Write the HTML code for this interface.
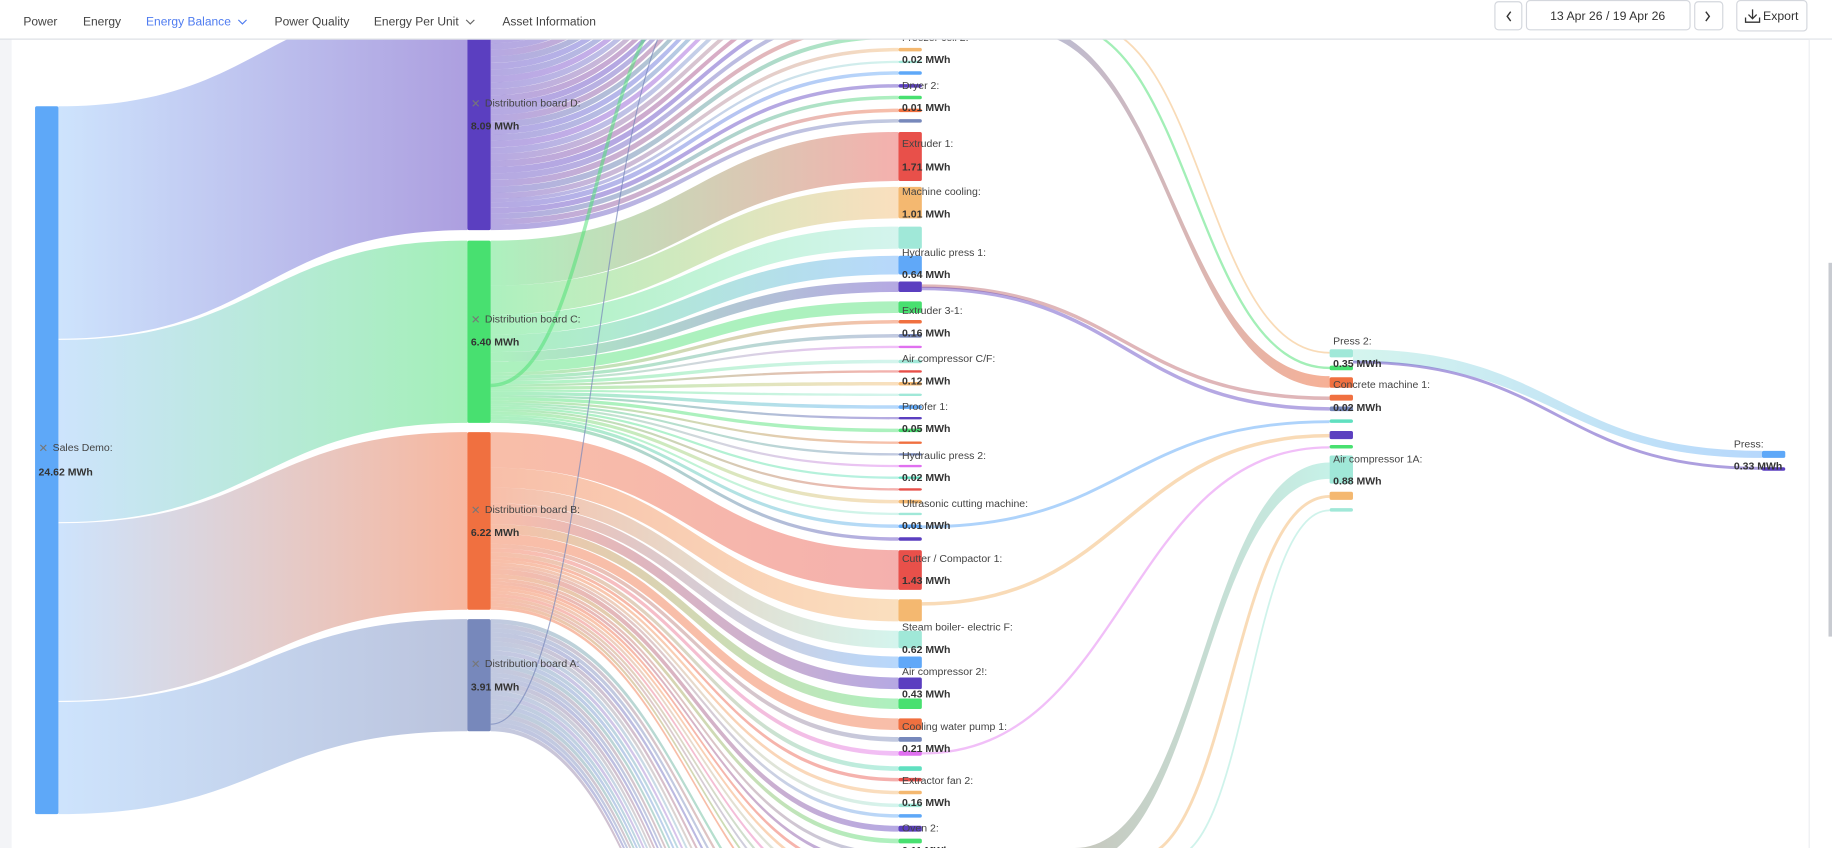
<!DOCTYPE html>
<html><head><meta charset="utf-8"><style>
html,body{margin:0;padding:0;background:#fff;width:1832px;height:848px;overflow:hidden;}
svg{display:block;font-family:"Liberation Sans",sans-serif;}
</style></head><body>
<svg id="s" width="1832" height="848" viewBox="0 0 1568 726" preserveAspectRatio="none" xmlns="http://www.w3.org/2000/svg" overflow="hidden">
<defs id="defs"><clipPath id="cp"><rect x="0" y="0" width="1568" height="726"/></clipPath></defs>
<g clip-path="url(#cp)">
<rect x="0" y="0" width="1568" height="726" fill="#fff"/>
<rect x="0" y="33" width="10" height="693" fill="#f3f4f7"/>
<g id="links"></g>
<g id="nodes"></g>
<g id="labels" font-size="9" fill="#444">
<text x="45" y="386">Sales Demo:</text><text x="33" y="407" font-weight="bold" fill="#333">24.62 MWh</text>
<text x="415" y="91">Distribution board D:</text><text x="403" y="111" font-weight="bold" fill="#333">8.09 MWh</text>
<text x="415" y="276">Distribution board C:</text><text x="403" y="296" font-weight="bold" fill="#333">6.40 MWh</text>
<text x="415" y="439">Distribution board B:</text><text x="403" y="459" font-weight="bold" fill="#333">6.22 MWh</text>
<text x="415" y="571">Distribution board A:</text><text x="403" y="591" font-weight="bold" fill="#333">3.91 MWh</text>
<g fill="#777" font-size="10"><text x="33" y="387">✕</text><text x="403" y="92">✕</text><text x="403" y="277">✕</text><text x="403" y="440">✕</text><text x="403" y="572">✕</text></g>
<text x="772" y="35">Freezer cell 2:</text><text x="772" y="54" font-weight="bold" fill="#333">0.02 MWh</text>
<text x="772" y="76">Dryer 2:</text><text x="772" y="95" font-weight="bold" fill="#333">0.01 MWh</text>
<text x="772" y="126">Extruder 1:</text><text x="772" y="146" font-weight="bold" fill="#333">1.71 MWh</text>
<text x="772" y="167">Machine cooling:</text><text x="772" y="186" font-weight="bold" fill="#333">1.01 MWh</text>
<text x="772" y="219">Hydraulic press 1:</text><text x="772" y="238" font-weight="bold" fill="#333">0.64 MWh</text>
<text x="772" y="269">Extruder 3-1:</text><text x="772" y="288" font-weight="bold" fill="#333">0.16 MWh</text>
<text x="772" y="310">Air compressor C/F:</text><text x="772" y="329" font-weight="bold" fill="#333">0.12 MWh</text>
<text x="772" y="351">Proofer 1:</text><text x="772" y="370" font-weight="bold" fill="#333">0.05 MWh</text>
<text x="772" y="393">Hydraulic press 2:</text><text x="772" y="412" font-weight="bold" fill="#333">0.02 MWh</text>
<text x="772" y="434">Ultrasonic cutting machine:</text><text x="772" y="453" font-weight="bold" fill="#333">0.01 MWh</text>
<text x="772" y="481">Cutter / Compactor 1:</text><text x="772" y="500" font-weight="bold" fill="#333">1.43 MWh</text>
<text x="772" y="540">Steam boiler- electric F:</text><text x="772" y="559" font-weight="bold" fill="#333">0.62 MWh</text>
<text x="772" y="578">Air compressor 2!:</text><text x="772" y="597" font-weight="bold" fill="#333">0.43 MWh</text>
<text x="772" y="625">Cooling water pump 1:</text><text x="772" y="644" font-weight="bold" fill="#333">0.21 MWh</text>
<text x="772" y="671">Extractor fan 2:</text><text x="772" y="690" font-weight="bold" fill="#333">0.16 MWh</text>
<text x="772" y="712">Oven 2:</text><text x="772" y="731" font-weight="bold" fill="#333">0.11 MWh</text>
<text x="1141" y="295">Press 2:</text><text x="1141" y="314" font-weight="bold" fill="#333">0.35 MWh</text>
<text x="1141" y="332">Concrete machine 1:</text><text x="1141" y="352" font-weight="bold" fill="#333">0.02 MWh</text>
<text x="1141" y="396">Air compressor 1A:</text><text x="1141" y="415" font-weight="bold" fill="#333">0.88 MWh</text>
<text x="1484" y="383">Press:</text><text x="1484" y="402" font-weight="bold" fill="#333">0.33 MWh</text>
</g>
<!-- nav -->
<rect x="0" y="0" width="1568" height="33" fill="#fff"/>
<line x1="0" y1="33.5" x2="1568" y2="33.5" stroke="#dde0e6"/>
<g font-size="10.3" fill="#444">
<text x="20" y="22">Power</text><text x="71" y="22">Energy</text>
<text x="125" y="22" fill="#4f7cf0">Energy Balance</text>
<path d="M204 17 l3.5 3.5 l3.5 -3.5" stroke="#4f7cf0" fill="none"/>
<text x="235" y="22">Power Quality</text><text x="320" y="22">Energy Per Unit</text>
<path d="M399 17 l3.5 3.5 l3.5 -3.5" stroke="#666" fill="none"/>
<text x="430" y="22">Asset Information</text>
</g>
<g fill="#fff" stroke="#d4d7dd">
<rect x="1279.5" y="1.5" width="23" height="24" rx="3"/>
<rect x="1306.5" y="0.5" width="140" height="25" rx="3"/>
<rect x="1450.5" y="1.5" width="24" height="24" rx="3"/>
<rect x="1486.5" y="0.5" width="60" height="26" rx="3"/>
</g>
<path d="M1293 10 l-3 4 l3 4" stroke="#333" fill="none" stroke-width="1.2"/>
<path d="M1460 10 l3 4 l-3 4" stroke="#333" fill="none" stroke-width="1.2"/>
<text x="1376" y="17" font-size="10.5" fill="#333" text-anchor="middle">13 Apr 26 / 19 Apr 26</text>
<path d="M1500 8 v8 M1496.5 12.5 l3.5 3.5 l3.5 -3.5 M1494 15 v4 h12 v-4" stroke="#333" fill="none" stroke-width="1.1"/>
<text x="1509" y="17" font-size="10.5" fill="#333">Export</text>
<rect x="1548" y="34" width="20" height="692" fill="#fff"/>
<line x1="1548.5" y1="34" x2="1548.5" y2="726" stroke="#eceef1"/>
<rect x="1565" y="225" width="3" height="320" fill="#c8cbd1"/>
</g>
</svg>
<script>
const NS="http://www.w3.org/2000/svg";
const L=document.getElementById('links'),N=document.getElementById('nodes'),D=document.getElementById('defs');
let gid=0;
const C={blue:'#5ea8f8',green:'#48e070',orange:'#f07040',slate:'#7788bb',purple:'#5b3fc0',red:'#e8504a',peach:'#f4b870',teal:'#a0e8d8',mag:'#e070f0',aqua:'#60e0c0',lblue:'#60a8f8'};
function el(t,a,p){const e=document.createElementNS(NS,t);for(const k in a)e.setAttribute(k,a[k]);p.appendChild(e);return e;}
function band(x0,a,b,x1,c,d,c0,c1,op){
  const id='g'+(gid++);const g=el('linearGradient',{id:id,gradientUnits:'userSpaceOnUse',x1:x0,y1:0,x2:x1,y2:0},D);
  el('stop',{offset:0,'stop-color':c0},g);el('stop',{offset:1,'stop-color':c1},g);
  const m=(x0+x1)/2;
  el('path',{d:`M${x0} ${a} C${m} ${a} ${m} ${c} ${x1} ${c} L${x1} ${d} C${m} ${d} ${m} ${b} ${x0} ${b} Z`,fill:`url(#${id})`,'fill-opacity':op||0.5},L);
}
function line(x0,y0,x1,y1,col,w,op){const m=(x0+x1)/2;el('path',{d:`M${x0} ${y0} C${m} ${y0} ${m} ${y1} ${x1} ${y1}`,stroke:col,'stroke-width':w,fill:'none','stroke-opacity':op||0.5},L);}
function node(x,y0,y1,col){el('rect',{x:x,y:y0,width:20,height:Math.max(y1-y0,2),fill:col,rx:1.5},N);}
const boards=[[-2,197,C.purple],[206,362,C.green],[370,522,C.orange],[530,626,C.slate]];
const ss=[[91,290],[291,447],[448,600],[601,697]];
boards.forEach((b,i)=>{band(50,ss[i][0],ss[i][1],400,b[0],b[1],'#9cc8fa',b[2],0.5);node(400,b[0],b[1],b[2]);});
node(30,91,697,C.blue);
const pal=[C.blue,C.green,C.orange,C.slate,C.purple,C.red,C.peach,C.teal,C.mag,C.aqua];
function fan(src,s0,s1,targets){
  const tot=targets.reduce((s,t)=>s+(t[1]-t[0]),0);let y=s0;const k=(s1-s0)/tot;
  targets.forEach(t=>{const w=(t[1]-t[0])*k;band(420,y,y+w,769,t[0],t[1],src,t[2],0.45);y+=w;node(769,t[0],t[1],t[2]);});
}
let Dt=[];for(let k=30;k>=1;k--){Dt.push([41-k*11.5,41-k*11.5+3.5,pal[k%10]]);}
Dt=Dt.concat([[41,44,C.peach],[52,54,C.teal],[61,64,C.blue],[72,75,C.purple],[82,85,C.green],[93,96,C.orange],[102,105,C.slate]]);
fan(C.purple,-2,197,Dt);
const Ct=[[113,155,C.red],[160,187,C.peach],[194,213,C.teal],[219,235,C.lblue],[241,250,C.purple],[258,268,C.green],
[274,277,C.orange],[286,289,C.slate],[296,298,C.mag],[308,311,C.teal],[317,319,C.red],[327,330,C.peach],[337,339,C.teal],[347,350,C.blue],[357,359,C.purple],[367,370,C.green],[378,380,C.orange],[388,390,C.slate],[398,400,C.mag],[408,410,C.aqua],[418,420,C.red],[428,431,C.peach],[439,441,C.teal],[449,452,C.blue],[460,463,C.purple]];
fan(C.green,206,362,Ct);
let Bt=[[471,505,C.red],[513,532,C.peach],[540,555,C.teal],[562,572,C.lblue],[580,590,C.purple],[598,607,C.green],[615,625,C.orange],[631,635,C.slate],[643,647,C.mag],[656,660,C.aqua],[666,669,C.red],[677,680,C.peach],[688,691,C.teal],[697,700,C.blue],[707,712,C.purple],[718,722,C.green]];
for(let k=0;k<10;k++)Bt.push([730+k*10,733+k*10,pal[(k+3)%10]]);
fan(C.orange,370,522,Bt);
let At=[];for(let k=0;k<25;k++)At.push([840+k*14,844+k*14,pal[(k+1)%10]]);
fan(C.slate,530,626,At);
line(420,330,600,-10,C.green,3,0.5);
line(420,620,600,-10,C.slate,1,0.7);
line(789,245,1138,341,'#c47a80',3,0.55);
line(789,247,1138,350,C.purple,3,0.45);
band(870,20,26,1138,322,332,C.slate,C.orange,0.55);
line(905,20,1138,315,C.green,2,0.5);
line(925,20,1138,302,C.peach,1.5,0.5);
line(789,451,1138,361,C.blue,2.5,0.5);
line(789,517,1138,373,C.peach,3,0.5);
line(789,645,1138,383,C.mag,2,0.45);
band(920,726,740,1138,396,410,'#a0a090',C.teal,0.6);
line(970,735,1138,425,C.peach,2.5,0.5);
line(1000,735,1138,437,C.teal,1.5,0.5);
band(1158,299,310,1508,386,392,C.teal,C.blue,0.45);
line(1158,310,1508,401,C.purple,2.5,0.5);
[[299,306,C.teal],[313,317,C.green],[323,332,C.orange],[338,343,C.orange],[348,352,C.slate],[359,362,C.aqua],[369,376,C.purple],[381,384,C.green],[390,414,C.teal],[421,428,C.peach],[435,438,C.teal]].forEach(n=>node(1138,n[0],n[1],n[2]));
node(1508,386,392,C.blue);node(1508,400,403,C.purple);
</script>
</body></html>
